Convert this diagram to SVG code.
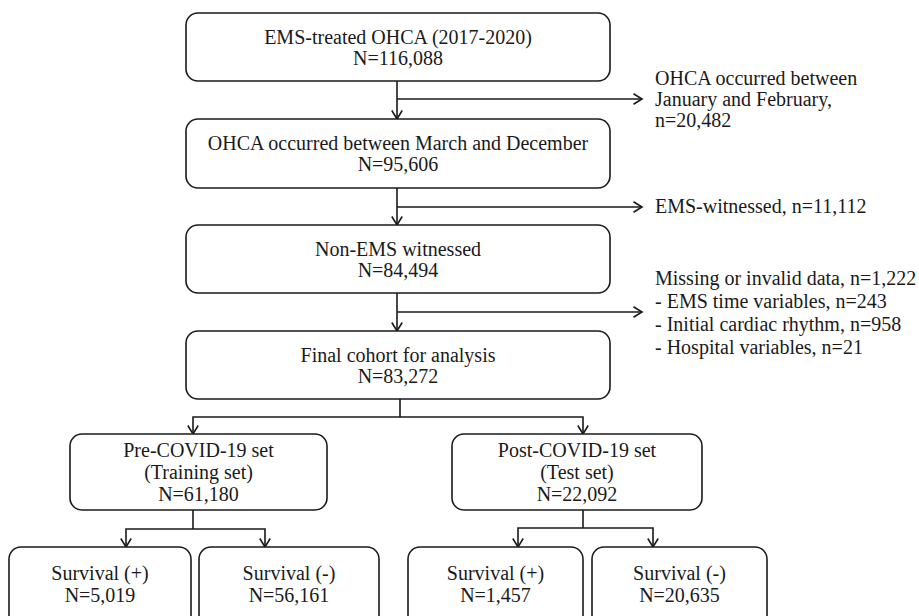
<svg xmlns="http://www.w3.org/2000/svg" width="919" height="616" viewBox="0 0 919 616">
<style>
.box{fill:#fff;stroke:#1a1a1a;stroke-width:1.6}
.t{font-family:"Liberation Serif","Times New Roman",serif;font-size:20px;fill:#1a1a1a;text-anchor:middle}
.l{font-family:"Liberation Serif","Times New Roman",serif;font-size:20px;fill:#1a1a1a}
.c{fill:none;stroke:#1a1a1a;stroke-width:1.6;marker-end:url(#arr)}
.cn{fill:none;stroke:#1a1a1a;stroke-width:1.6}
</style>
<defs>
<marker id="arr" markerUnits="userSpaceOnUse" markerWidth="12" markerHeight="12" refX="10" refY="6" orient="auto">
<path d="M1.5,0.8 L10,6 L1.5,11.2" fill="none" stroke="#1a1a1a" stroke-width="1.6"/>
</marker>
</defs>
<rect width="919" height="616" fill="#fff"/>
<g id="connectors">
<path class="c" d="M397,81 V119"/>
<path class="c" d="M397,99 H642"/>
<path class="c" d="M397,188 V225"/>
<path class="c" d="M397,207 H642"/>
<path class="c" d="M397,293 V331"/>
<path class="c" d="M397,312 H642"/>
<path class="cn" d="M400,399 V417"/>
<path class="c" d="M400,417 H193 V434"/>
<path class="c" d="M400,417 H583 V434"/>
<path class="cn" d="M193,510 V529"/>
<path class="c" d="M193,529 H126 V547"/>
<path class="c" d="M193,529 H265 V547"/>
<path class="cn" d="M583,510 V528"/>
<path class="c" d="M583,528 H518 V547"/>
<path class="c" d="M583,528 H653 V547"/>
</g>
<g id="n1"><rect class="box" x="186" y="13" width="424" height="68" rx="12"/>
<text class="t" x="398" y="44">EMS-treated OHCA (2017-2020)</text><text class="t" x="398" y="65">N=116,088</text></g>
<g id="n2"><rect class="box" x="186" y="119" width="424" height="69" rx="12"/>
<text class="t" x="398" y="150">OHCA occurred between March and December</text><text class="t" x="398" y="171">N=95,606</text></g>
<g id="n3"><rect class="box" x="186" y="225" width="424" height="68" rx="12"/>
<text class="t" x="398" y="256">Non-EMS witnessed</text><text class="t" x="398" y="277">N=84,494</text></g>
<g id="n4"><rect class="box" x="186" y="331" width="424" height="68" rx="12"/>
<text class="t" x="398" y="362">Final cohort for analysis</text><text class="t" x="398" y="383">N=83,272</text></g>
<g id="e1"><text class="l" x="655" y="85">OHCA occurred between</text><text class="l" x="655" y="106">January and February,</text><text class="l" x="655" y="127">n=20,482</text></g>
<g id="e2"><text class="l" x="655" y="213">EMS-witnessed, n=11,112</text></g>
<g id="e3"><text class="l" x="655" y="285">Missing or invalid data, n=1,222</text><text class="l" x="655" y="308">- EMS time variables, n=243</text><text class="l" x="655" y="331">- Initial cardiac rhythm, n=958</text><text class="l" x="655" y="354">- Hospital variables, n=21</text></g>
<g id="pre"><rect class="box" x="70" y="434" width="257" height="76" rx="12"/>
<text class="t" x="198.5" y="457">Pre-COVID-19 set</text><text class="t" x="198.5" y="479">(Training set)</text><text class="t" x="198.5" y="501">N=61,180</text></g>
<g id="post"><rect class="box" x="452" y="434" width="250" height="76" rx="12"/>
<text class="t" x="577" y="457">Post-COVID-19 set</text><text class="t" x="577" y="479">(Test set)</text><text class="t" x="577" y="501">N=22,092</text></g>
<g id="s1"><rect class="box" x="9" y="547" width="182" height="90" rx="12"/>
<text class="t" x="100" y="580">Survival (+)</text><text class="t" x="100" y="602">N=5,019</text></g>
<g id="s2"><rect class="box" x="199" y="547" width="180" height="90" rx="12"/>
<text class="t" x="289" y="580">Survival (-)</text><text class="t" x="289" y="602">N=56,161</text></g>
<g id="s3"><rect class="box" x="408" y="547" width="175" height="90" rx="12"/>
<text class="t" x="495.5" y="580">Survival (+)</text><text class="t" x="495.5" y="602">N=1,457</text></g>
<g id="s4"><rect class="box" x="592" y="547" width="175" height="90" rx="12"/>
<text class="t" x="679.5" y="580">Survival (-)</text><text class="t" x="679.5" y="602">N=20,635</text></g>
</svg>
